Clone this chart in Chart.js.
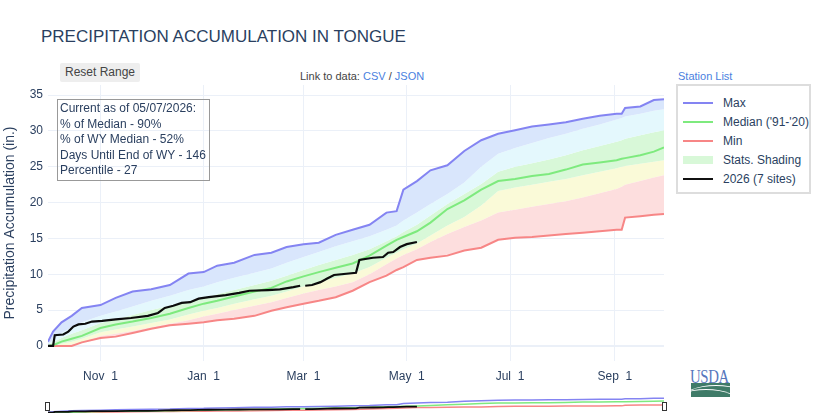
<!DOCTYPE html>
<html>
<head>
<meta charset="utf-8">
<script src="https://cdn.jsdelivr.net/npm/chart.js@4.4.1/dist/chart.umd.min.js"></script>
<style>
  body { margin:0; width:816px; height:420px; position:relative; background:#fff; overflow:hidden;
         font-family:"Liberation Sans", Arial, sans-serif; }
  .abs { position:absolute; }
  #titre { left:41px; top:27px; font-size:17px; color:#2a3f5f; white-space:nowrap; }
  #reset { left:60px; top:63px; width:80px; height:19px; line-height:19px; background:#eee; border-radius:2px;
           font-size:12px; color:#444; text-align:center; }
  #lien { left:300px; top:70px; font-size:11px; color:#444; white-space:nowrap; }
  #lien span, #stations { color:#4a7fe0; }
  #stations { left:678px; top:70px; font-size:11px; white-space:nowrap; }
  #infos { left:57px; top:99px; width:149px; height:79px; border:1px solid #999; font-size:12px; color:#2a3f5f;
           line-height:15.6px; padding:1px 0 0 2px; box-sizing:content-box; white-space:nowrap; }
  #legende { left:676px; top:84px; width:131px; height:106px; border:2px solid #ddd; }
  .item { position:absolute; left:5px; height:19px; font-size:12px; color:#2a3f5f; white-space:nowrap; }
  .item i { position:absolute; left:0; top:8px; width:30px; height:2px; }
  .item b { position:absolute; left:40px; top:2px; font-weight:normal; }
  #grand { left:0; top:85px; }
  #petit { left:48px; top:396px; }
  .poignee { width:3px; height:7px; border:1px solid #333; background:#fff; top:402px; }
  #usda { left:690px; top:366px; font-family:"Liberation Serif", serif; font-size:19px; color:#5877bd;
          transform:scaleX(0.78); transform-origin:left top; letter-spacing:-0.5px; }
  #usdaVert { left:691px; top:383px; width:39px; height:14px; background:#3f7b68; overflow:hidden; }
  #usdaVert div { position:absolute; left:-10px; top:2px; width:70px; height:30px; border-top:1.5px solid #fff; border-radius:50%; }
</style>
</head>
<body>
<div id="titre" class="abs">PRECIPITATION ACCUMULATION IN TONGUE</div>
<div id="reset" class="abs">Reset Range</div>
<div id="lien" class="abs">Link to data: <span>CSV</span> / <span>JSON</span></div>
<div id="stations" class="abs">Station List</div>

<canvas id="grand" class="abs" width="664" height="310"></canvas>
<canvas id="petit" class="abs" width="616" height="17"></canvas>
<div class="abs poignee" style="left:45px"></div>
<div class="abs poignee" style="left:662px"></div>

<div id="infos" class="abs">Current as of 05/07/2026:<br>% of Median - 90%<br>% of WY Median - 52%<br>Days Until End of WY - 146<br>Percentile - 27</div>

<div id="legende" class="abs"></div>

<div id="usda" class="abs">USDA</div>
<div id="usdaVert" class="abs"><div></div><div style="top:6px;left:-20px"></div></div>

<script>
/* Jours depuis le 1er octobre (année hydrologique) */
const jours = [0,3,8,14,20,31,40,50,61,72,83,92,100,110,122,132,141,151,160,170,180,190,200,206,210,
  218,226,236,246,256,266,276,286,296,306,316,326,336,339,341,350,358,364];

/* Statistiques (pouces) */
const maxi = [0.6,2.0,3.3,4.2,5.3,5.7,6.7,7.6,7.9,8.5,10.1,10.3,11.2,11.6,12.7,13.0,13.8,14.2,14.4,15.5,
  16.2,16.9,18.6,18.8,21.8,23.0,24.5,25.2,27.2,28.7,29.6,30.1,30.6,30.9,31.2,31.7,32.1,32.4,32.4,33.2,33.4,34.3,34.4];
const p90 = [0.2,0.9,1.8,2.6,3.3,4.2,4.8,5.5,6.3,7.0,7.8,8.3,8.9,9.5,10.2,10.8,11.6,12.4,13.1,13.9,
  14.6,15.3,16.2,16.8,17.5,18.6,19.8,21.2,22.8,25.0,26.8,27.6,28.3,29.0,29.6,30.3,30.9,31.6,31.8,32.0,32.4,32.8,33.0];
const p70 = [0.1,0.5,1.1,1.7,2.2,3.2,3.7,4.3,5.0,5.6,6.2,6.7,7.2,7.8,8.5,9.1,9.8,10.6,11.3,12.0,
  12.7,13.5,14.6,15.3,15.9,16.9,18.2,19.8,21.2,22.6,24.3,25.0,25.5,26.0,26.6,27.3,27.9,28.5,28.7,28.9,29.4,29.8,30.1];
const mediane = [0,0.1,0.6,1.0,1.4,2.5,3.0,3.4,3.9,4.5,5.3,5.9,6.3,6.9,7.6,8.1,9.0,9.7,10.3,10.9,
  11.5,12.6,14.0,14.8,15.2,16.0,17.2,19.1,20.3,21.8,23.0,23.3,23.7,24.0,24.6,25.3,25.6,25.9,26.1,26.2,26.6,27.1,27.7];
const p30 = [0,0,0.3,0.6,1.0,1.9,2.3,2.7,3.2,3.7,4.4,4.9,5.3,5.9,6.5,7.0,7.6,8.3,8.9,9.5,
  10.1,11.0,12.3,13.0,13.5,14.3,15.4,16.8,18.0,19.6,21.6,22.1,22.5,22.9,23.3,23.8,24.3,24.8,25.0,25.1,25.4,25.7,25.9];
const p10 = [0,0,0,0.2,0.5,1.4,1.7,2.1,2.6,3.1,3.6,4.1,4.5,5.0,5.6,6.1,6.7,7.3,7.8,8.3,
  8.9,10.0,11.4,12.2,12.7,13.5,14.5,15.6,16.6,17.5,18.6,19.0,19.4,19.8,20.2,20.7,21.3,21.9,22.2,22.5,23.0,23.5,23.8];
const mini = [0,0,0,0,0.5,1.1,1.3,1.8,2.4,2.9,3.1,3.3,3.6,3.8,4.2,4.9,5.4,5.9,6.3,6.8,
  7.7,8.9,9.8,10.6,11.0,12.0,12.3,12.6,13.3,13.7,14.8,15.1,15.2,15.4,15.6,15.8,16.0,16.2,16.2,17.9,18.1,18.3,18.4];

/* Année en cours (7 sites) */
const jours2026 = [0,3,4,9,12,15,18,22,26,32,40,49,59,65,69,74,79,84,89,95,105,113,119,130,137,
  145,149,150,152,156,161,165,169,182,184,192,198,201,204,208,212,218];
const valeurs2026 = [0,0,1.5,1.6,2.0,2.7,3.0,3.1,3.4,3.5,3.7,3.9,4.2,4.6,5.3,5.6,6.0,6.1,6.6,6.8,7.1,7.4,7.7,7.8,7.9,
  8.2,8.4,null,8.4,8.5,8.9,9.4,9.9,10.2,12.0,12.3,12.4,13.0,13.1,13.8,14.2,14.5];

/* Axes */
const ticksX = [31, 92, 151, 212, 273, 335];
const labelsX = ['Nov  1', 'Jan  1', 'Mar  1', 'May  1', 'Jul  1', 'Sep  1'];
const ticksY = [0, 5, 10, 15, 20, 25, 30, 35];

const couleurMax = '#8484f2';
const couleurMed = '#7eea7e';
const couleurMin = '#f78686';
const couleurTexte = '#2a3f5f';
const police = '"Liberation Sans", Arial, sans-serif';

const points = (xs, ys) => xs.map((x, i) => ({x, y: ys[i]}));

const ligne = (label, data, couleur, largeur, extra) => Object.assign({
  label, data: points(jours, data), borderColor: couleur, borderWidth: largeur,
  pointRadius: 0, fill: false, tension: 0
}, extra || {});

const bande = (label, data, fond, cible) => ({
  label, data: points(jours, data), borderColor: 'rgba(0,0,0,0)', borderWidth: 0,
  backgroundColor: fond, pointRadius: 0, fill: cible, order: 10
});

const datasets = [
  ligne('Max', maxi, couleurMax, 2, {order: 3}),
  bande('p90', p90, '#d9e6fc', 0),
  bande('p70', p70, '#e4f8fd', '-1'),
  bande('p30', p30, '#d8f8d8', '-1'),
  bande('p10', p10, '#fafad8', '-1'),
  ligne('Min', mini, couleurMin, 2, {order: 4, fill: '-1', backgroundColor: '#fddede'}),
  ligne("Median ('91-'20)", mediane, couleurMed, 2, {order: 2}),
  {label: '2026 (7 sites)', data: points(jours2026, valeurs2026), borderColor: '#0c0c0c', borderWidth: 2.2,
   pointRadius: 0, fill: false, spanGaps: false, order: 0}
];

new Chart(document.getElementById('grand').getContext('2d'), {
  type: 'line',
  data: { datasets },
  options: {
    responsive: false, animation: false, devicePixelRatio: 1,
    layout: { padding: 0 },
    plugins: { legend: { display: false }, tooltip: { enabled: false },
               filler: { drawTime: 'beforeDatasetsDraw' } },
    scales: {
      x: {
        type: 'linear', min: 0, max: 364,
        afterBuildTicks: s => { s.ticks = ticksX.map(v => ({value: v})); },
        afterFit: s => { s.height = 34; s.paddingLeft = 0; s.paddingRight = 0; },
        ticks: { callback: (v) => labelsX[ticksX.indexOf(v)], color: couleurTexte, padding: 8,
                 font: { family: police, size: 12 }, maxRotation: 0, autoSkip: false },
        grid: { color: '#ebf0f8', drawTicks: false },
        border: { display: false }
      },
      y: {
        min: -2.1, max: 36.4,
        afterBuildTicks: s => { s.ticks = ticksY.map(v => ({value: v})); },
        afterFit: s => { s.width = 48; s.paddingTop = 0; s.paddingBottom = 0; },
        ticks: { color: couleurTexte, padding: 5, font: { family: police, size: 12 } },
        grid: { color: '#ebf0f8', drawTicks: false, lineWidth: c => (c.tick && c.tick.value === 0 ? 2 : 1) },
        border: { display: false },
        title: { display: true, text: 'Precipitation Accumulation (in.)', color: couleurTexte,
                 font: { family: police, size: 14 }, padding: { top: 2, bottom: 0 } }
      }
    }
  }
});

/* Mini graphique du curseur de plage */
const mini2 = [
  {data: points(jours, maxi), borderColor: couleurMax, borderWidth: 1.5},
  {data: points(jours, mediane), borderColor: couleurMed, borderWidth: 1.5},
  {data: points(jours, mini), borderColor: couleurMin, borderWidth: 1.5},
  {data: points(jours2026, valeurs2026), borderColor: '#0c0c0c', borderWidth: 1.8, order: -1}
].map(d => Object.assign({pointRadius: 0, fill: false, spanGaps: false}, d));

new Chart(document.getElementById('petit').getContext('2d'), {
  type: 'line',
  data: { datasets: mini2 },
  options: {
    responsive: false, animation: false, devicePixelRatio: 1,
    layout: { padding: 0 },
    plugins: { legend: { display: false }, tooltip: { enabled: false } },
    scales: {
      x: { type: 'linear', min: 0, max: 364, display: false },
      y: { min: -1, max: 40, display: false }
    }
  }
});

/* Légende HTML */
const entrees = [
  {txt: 'Max', style: `background:${couleurMax}`},
  {txt: "Median ('91-'20)", style: `background:${couleurMed}`},
  {txt: 'Min', style: `background:${couleurMin}`},
  {txt: 'Stats. Shading', style: 'background:#d8f8d8;height:8px;top:5px'},
  {txt: '2026 (7 sites)', style: 'background:#111'}
];
let str = '';
entrees.forEach((e, i) => {
  str += `<div class="item" style="top:${8 + i * 19}px;width:125px"><i style="${e.style}"></i><b>${e.txt}</b></div>`;
});
document.getElementById('legende').innerHTML = str;
</script>
</body>
</html>
